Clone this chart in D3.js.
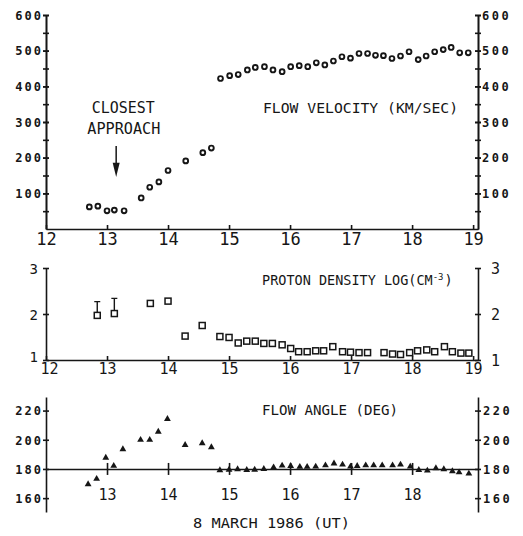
<!DOCTYPE html>
<html>
<head>
<meta charset="utf-8">
<script src="https://cdn.jsdelivr.net/npm/d3@7"></script>
<style>
  body { margin: 0; background: #fff; }
</style>
</head>
<body>
<div id="chart"></div>
<script>
// Giotto / comet encounter: flow velocity, proton density, flow angle
const width = 523
const height = 536
const font = "'DejaVu Sans Mono', 'Liberation Mono', monospace"
const ink = "#161616"

// flow velocity (km/sec) vs hour UT
const velTime = [12.71, 12.85, 13.00, 13.12, 13.28, 13.56, 13.70, 13.85, 14.00, 14.29, 14.57, 14.71,
    14.86, 15.01, 15.15, 15.30, 15.43, 15.58, 15.72, 15.87, 16.01, 16.15, 16.29, 16.43, 16.57, 16.71,
    16.85, 16.99, 17.13, 17.27, 17.40, 17.53, 17.67, 17.81, 17.95, 18.10, 18.23, 18.37, 18.51, 18.64,
    18.78, 18.92]
const velValues = [62, 64, 51, 53, 51, 87, 117, 132, 164, 191, 214, 227,
    422, 430, 433, 446, 453, 455, 446, 441, 455, 458, 455, 466, 460, 471,
    483, 479, 492, 492, 487, 486, 478, 485, 497, 475, 485, 497, 503, 509,
    494, 494]

// proton density, log(cm-3)
const denTime = [12.84, 13.12, 13.71, 14.00, 14.28, 14.56, 14.85, 15.00, 15.15, 15.29, 15.43, 15.57,
    15.71, 15.87, 16.01, 16.14, 16.28, 16.42, 16.55, 16.70, 16.86, 16.99, 17.13, 17.27, 17.54, 17.68,
    17.81, 17.96, 18.09, 18.24, 18.37, 18.53, 18.66, 18.80, 18.93]
const denValues = [1.97, 2.01, 2.23, 2.28, 1.52, 1.75, 1.51, 1.49, 1.37, 1.41, 1.41, 1.36,
    1.36, 1.33, 1.25, 1.18, 1.18, 1.20, 1.20, 1.29, 1.18, 1.17, 1.16, 1.16, 1.16, 1.13,
    1.12, 1.16, 1.20, 1.22, 1.18, 1.29, 1.18, 1.15, 1.15]
const errTime = [12.84, 13.12]
const errTop = [2.27, 2.34]

// flow angle (deg)
const angTime = [12.69, 12.83, 12.98, 13.11, 13.26, 13.55, 13.70, 13.84, 13.99, 14.28, 14.56, 14.71,
    14.85, 15.00, 15.14, 15.29, 15.42, 15.57, 15.73, 15.87, 16.01, 16.16, 16.28, 16.42, 16.58, 16.72,
    16.86, 16.99, 17.10, 17.24, 17.37, 17.51, 17.68, 17.81, 17.97, 18.11, 18.25, 18.39, 18.52, 18.66,
    18.77, 18.93]
const angValues = [169.5, 173.2, 187.7, 182.1, 193.5, 199.9, 199.9, 205.5, 214.2, 196.4, 197.6, 194.9,
    179.1, 179.5, 179.8, 179.3, 179.5, 180.0, 181.1, 182.3, 182.0, 181.4, 181.4, 181.6, 182.5, 183.7,
    183.0, 181.6, 182.0, 182.5, 182.5, 182.5, 182.5, 183.0, 181.6, 179.3, 178.9, 180.5, 179.8, 178.4,
    177.7, 176.8]

// ticks
const hourTicks = [12, 13, 14, 15, 16, 17, 18, 19]
const angHourTicks = [13, 14, 15, 16, 17, 18]
const velTicks = [100, 200, 300, 400, 500, 600]
const velMinor = d3.range(50, 601, 50)
const denTicks = [1, 2, 3]
const angTicks = [160, 180, 200, 220]

const svg = d3.select("#chart")
    .append("svg")
    .attr("width", width)
    .attr("height", height)
    .style("background", "#fff")
    .style("font-family", font)

const x = d3.scaleLinear().domain([12, 19.08]).range([46, 478])
const yVel = d3.scaleLinear().domain([0, 600]).range([229, 15])
const yDen = d3.scaleLinear().domain([1, 3]).range([360, 268])
const yAng = d3.scaleLinear().domain([150.5, 229.3]).range([512, 397])

function styleAxis(g) {
    g.selectAll("path, line").attr("stroke", ink).attr("stroke-width", 1.6)
    g.selectAll("text").attr("fill", ink).style("font-family", font)
}

// vertical axes with ticks crossing the spine
function sideAxis(scale, side, ticks, minor, opts) {
    const xpos = side == "left" ? x.range()[0] : x.range()[1]
    const mk = side == "left" ? d3.axisLeft : d3.axisRight
    const s = side == "left" ? 1 : -1
    if (minor) {
        const gm = svg.append("g").attr("transform", `translate(${xpos},0)`)
            .call(mk(scale).tickValues(minor).tickSizeInner(3).tickSizeOuter(0).tickFormat(""))
        gm.selectAll(".tick line").attr("x1", 3 * s)
        styleAxis(gm)
    }
    const g = svg.append("g").attr("transform", `translate(${xpos},0)`)
        .call(mk(scale).tickValues(ticks).tickSizeInner(3).tickSizeOuter(0)
            .tickPadding(opts.pad).tickFormat(d3.format("d")))
    g.selectAll(".tick line").attr("x1", 3 * s)
    styleAxis(g)
    g.selectAll("text")
        .attr("font-size", opts.size)
        .attr("font-weight", opts.weight || "normal")
        .attr("letter-spacing", opts.spacing || 0)
        .attr("dy", "0.36em")
    return g
}

// ---------- top panel: flow velocity ----------
sideAxis(yVel, "left", velTicks, velMinor, { pad: 0, size: 12, weight: "bold", spacing: 2 })
sideAxis(yVel, "right", velTicks, velMinor, { pad: 1, size: 12, weight: "bold", spacing: 2.5 })

const gxTop = svg.append("g").attr("transform", `translate(0,${yVel(0)})`)
    .call(d3.axisBottom(x).tickValues(hourTicks).tickSizeInner(-4).tickSizeOuter(0).tickPadding(4))
styleAxis(gxTop)
gxTop.selectAll("text").attr("font-size", 17)

svg.append("g").selectAll("circle")
    .data(velTime.map((t, i) => ({ t: t, v: velValues[i] })))
    .join("circle")
    .attr("cx", d => x(d.t))
    .attr("cy", d => yVel(d.v))
    .attr("r", 2.4)
    .attr("fill", "#fff")
    .attr("stroke", ink)
    .attr("stroke-width", 1.9)

// closest approach annotation
const caT = 13.15
svg.append("line")
    .attr("x1", x(caT)).attr("x2", x(caT))
    .attr("y1", yVel(233)).attr("y2", yVel(180))
    .attr("stroke", ink).attr("stroke-width", 1.5)
svg.append("path")
    .attr("d", `M${x(caT) - 3.5},${yVel(186)}L${x(caT) + 3.5},${yVel(186)}L${x(caT)},${yVel(146)}Z`)
    .attr("fill", ink)

svg.append("text").attr("x", 91.7).attr("y", 113)
    .attr("font-size", 15).attr("textLength", 63).attr("lengthAdjust", "spacingAndGlyphs")
    .attr("fill", ink).text("CLOSEST")
svg.append("text").attr("x", 87.3).attr("y", 134)
    .attr("font-size", 15).attr("textLength", 73).attr("lengthAdjust", "spacingAndGlyphs")
    .attr("fill", ink).text("APPROACH")
svg.append("text").attr("x", 263).attr("y", 112.5)
    .attr("font-size", 14.5).attr("textLength", 195).attr("lengthAdjust", "spacingAndGlyphs")
    .attr("fill", ink).text("FLOW VELOCITY (KM/SEC)")

// ---------- middle panel: proton density ----------
const gDenL = sideAxis(yDen, "left", denTicks, null, { pad: 5, size: 14 })
gDenL.selectAll("text").filter(d => d == 1).attr("dy", "0.1em")
sideAxis(yDen, "right", denTicks, null, { pad: 10, size: 15 })

const gxMid = svg.append("g").attr("transform", `translate(0,${yDen(1)})`)
    .call(d3.axisBottom(x).tickValues(hourTicks).tickSizeInner(-4).tickSizeOuter(0).tickPadding(3))
styleAxis(gxMid)
gxMid.selectAll("text").attr("font-size", 15)
gxMid.selectAll("text").filter(d => d == 12).attr("dx", 3)

svg.append("g").selectAll("line")
    .data(errTime.map((t, i) => ({ t: t, v: denValues[i], top: errTop[i] })))
    .join("path")
    .attr("d", d => `M${x(d.t)},${yDen(d.v)}V${yDen(d.top)}M${x(d.t) - 3},${yDen(d.top)}H${x(d.t) + 3}`)
    .attr("stroke", ink)
    .attr("stroke-width", 1.4)
    .attr("fill", "none")

svg.append("g").selectAll("rect")
    .data(denTime.map((t, i) => ({ t: t, v: denValues[i] })))
    .join("rect")
    .attr("x", d => x(d.t) - 3)
    .attr("y", d => yDen(d.v) - 3)
    .attr("width", 6)
    .attr("height", 6)
    .attr("fill", "#fff")
    .attr("stroke", ink)
    .attr("stroke-width", 1.5)

const proton = svg.append("text").attr("x", 262).attr("y", 285)
    .attr("font-size", 13.5).attr("fill", ink)
proton.append("tspan").text("PROTON DENSITY LOG(CM")
proton.append("tspan").attr("font-size", 9).attr("dy", -5).text("-3")
proton.append("tspan").attr("dy", 5).attr("dx", 1).text(")")

// ---------- bottom panel: flow angle ----------
sideAxis(yAng, "left", angTicks, null, { pad: 0, size: 12, weight: "bold", spacing: 2 })
sideAxis(yAng, "right", angTicks, null, { pad: 2, size: 12, weight: "bold", spacing: 2.5 })

const gxBot = svg.append("g").attr("transform", `translate(0,${yAng(180)})`)
    .call(d3.axisBottom(x).tickValues(angHourTicks).tickSizeInner(6).tickSizeOuter(0).tickPadding(14))
gxBot.selectAll(".tick line").attr("y1", -6)
styleAxis(gxBot)
gxBot.selectAll("text").attr("font-size", 15)

svg.append("g").selectAll("path")
    .data(angTime.map((t, i) => ({ t: t, v: angValues[i] })))
    .join("path")
    .attr("transform", d => `translate(${x(d.t)},${yAng(d.v)})`)
    .attr("d", d3.symbol(d3.symbolTriangle).size(20))
    .attr("fill", ink)

svg.append("text").attr("x", 262).attr("y", 415)
    .attr("font-size", 14).attr("textLength", 136).attr("lengthAdjust", "spacingAndGlyphs")
    .attr("fill", ink).text("FLOW ANGLE (DEG)")
svg.append("text").attr("x", 193).attr("y", 528)
    .attr("font-size", 14).attr("textLength", 157).attr("lengthAdjust", "spacingAndGlyphs")
    .attr("fill", ink).text("8 MARCH 1986 (UT)")
</script>
</body>
</html>
